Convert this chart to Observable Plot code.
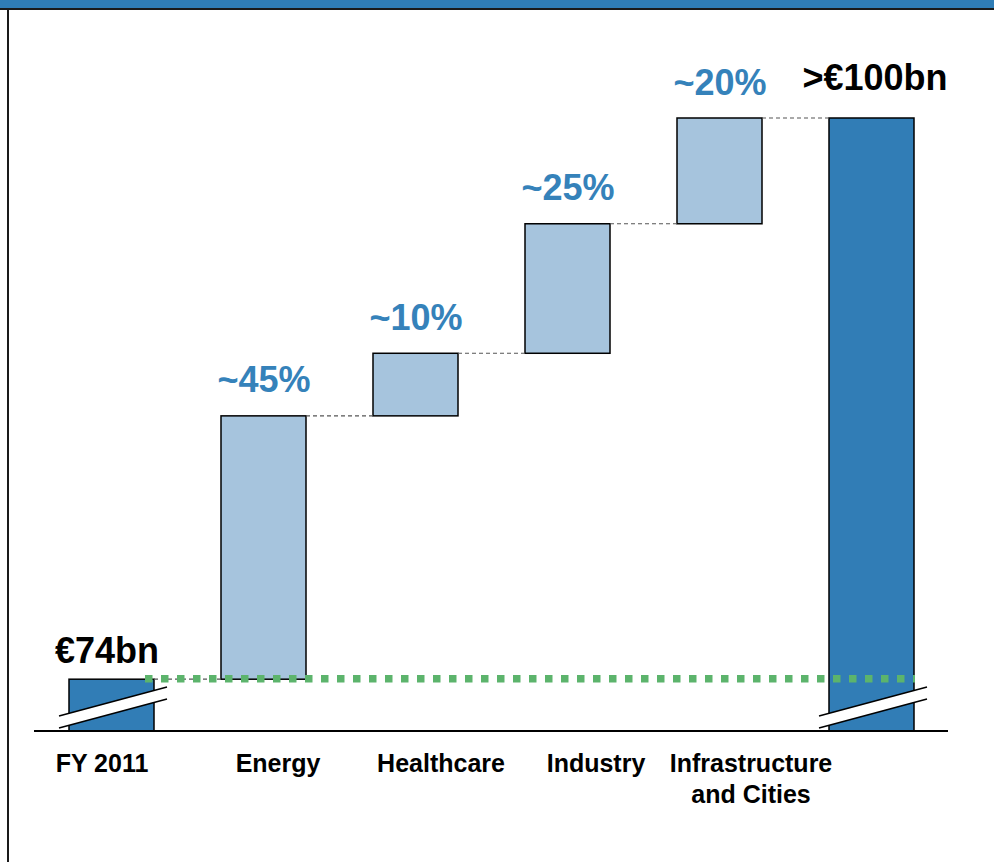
<!DOCTYPE html>
<html>
<head>
<meta charset="utf-8">
<script src="https://cdn.jsdelivr.net/npm/d3@7"></script>
<script src="https://cdn.jsdelivr.net/npm/@observablehq/plot@0.6"></script>
<style>
  html, body { margin: 0; padding: 0; background: #fff; }
  #wrap { position: relative; width: 994px; height: 862px; overflow: hidden; }
  #band { position: absolute; left: 0; top: 0; width: 994px; height: 8px; background: #2f7db6; border-bottom: 2px solid #1a1a1a; }
  #leftline { position: absolute; left: 7px; top: 10px; bottom: 0; width: 2px; background: #1a1a1a; }
  #chart { position: absolute; left: 0; top: 0; }
</style>
</head>
<body>
<div id="wrap">
  <div id="chart"></div>
  <div id="band"></div>
  <div id="leftline"></div>
</div>
<script>
// ---- data ----
const categories = ["FY 2011", "Energy", "Healthcare", "Industry", "Infrastructure and Cities", "Target"];
const axisLabels = ["FY 2011", "Energy", "Healthcare", "Industry", "Infrastructure\nand Cities", ""];
const startValue = 74;            // €bn, FY 2011
const increments = [12.2, 2.9, 6.0, 4.9]; // €bn contributions
const endValue = 100;             // €bn target
const shareLabels = ["~45%", "~10%", "~25%", "~20%"];
const totalLabels = ["€74bn", ">€100bn"];
const axisFloor = 71.6;           // broken-axis floor

// ---- derived rows ----
const totals = [
  {cat: categories[0], y1: axisFloor, y2: startValue, label: totalLabels[0]},
  {cat: categories[5], y1: axisFloor, y2: endValue, label: totalLabels[1]}
];
let cum = startValue;
const steps = increments.map((v, i) => {
  const r = {cat: categories[i + 1], y1: cum, y2: cum + v, label: shareLabels[i]};
  cum += v;
  return r;
});
const tops = [startValue, ...steps.map(d => d.y2)];
const labelRows = categories.map((c, i) => ({cat: c, text: axisLabels[i]}));
const labelShift = {"FY 2011": -10, "Energy": 14, "Healthcare": 25, "Industry": 28, "Infrastructure and Cities": 31, "Target": 0};

const darkBlue = "#317db6";
const lightBlue = "#a6c4dd";
const pctBlue = "#3582ba";
const font = "'Liberation Sans', Arial, Helvetica, sans-serif";

const chart = Plot.plot({
  width: 994,
  height: 862,
  marginLeft: 34,
  marginRight: 46,
  marginTop: 0,
  marginBottom: 0,
  style: {fontFamily: font, background: "transparent", overflow: "visible"},
  x: {type: "band", domain: categories, range: [1, 982.5], padding: 0.44, axis: null},
  y: {domain: [axisFloor, endValue], range: [731, 118], axis: null},
  marks: [
    Plot.barY(totals, {x: "cat", y1: "y1", y2: "y2", fill: darkBlue, stroke: "#000", strokeWidth: 1.5}),
    Plot.barY(steps, {x: "cat", y1: "y1", y2: "y2", fill: lightBlue, stroke: "#000", strokeWidth: 1.5}),
    Plot.text(steps, {x: "cat", y: "y2", text: "label", dy: -24, lineAnchor: "bottom", fill: pctBlue,
      fontSize: 36, fontWeight: "bold"}),
    Plot.text(totals.slice(0, 1), {x: "cat", y: "y2", text: "label", dy: -17, dx: -5, lineAnchor: "bottom", fill: "#000",
      fontSize: 36, fontWeight: "bold"}),
    Plot.text(totals.slice(1), {x: "cat", y: "y2", text: "label", dy: -29, dx: 3, lineAnchor: "bottom", fill: "#000",
      fontSize: 36, fontWeight: "bold"}),
    Plot.text(labelRows, {x: "cat", y: () => axisFloor, text: "text", lineAnchor: "top", dy: 18, lineHeight: 1.25,
      fontSize: 25, fontWeight: "bold", fill: "#000"})
  ]
});
// per-label horizontal shifts (positioning of the category labels)
d3.select(chart).selectAll("g[aria-label='text']").filter((d, i, n) => i === n.length - 1)
  .selectAll("text").each(function(d, i) {
    const dx = labelShift[categories[i]] || 0;
    const t = d3.select(this);
    const tr = t.attr("transform");
    t.attr("transform", (tr ? tr + " " : "") + `translate(${dx},0)`);
  });

document.getElementById("chart").appendChild(chart);

// ---- decorations via the plot's own scales ----
const sx = chart.scale("x");
const sy = chart.scale("y");
const bw = sx.bandwidth;
const svg = d3.select(chart);
const deco = svg.append("g");

// dashed connectors between consecutive bar tops
const seq = categories;
tops.forEach((v, i) => {
  const xa = sx.apply(seq[i]) + bw;
  const xb = sx.apply(seq[i + 1]);
  deco.append("line")
    .attr("x1", xa).attr("x2", xb)
    .attr("y1", sy.apply(v)).attr("y2", sy.apply(v))
    .attr("stroke", "#555").attr("stroke-width", 1.2).attr("stroke-dasharray", "4,3");
});

// axis break marks on the two total bars
const base = sy.apply(axisFloor);
[categories[0], categories[5]].forEach(c => {
  const left = sx.apply(c) - 10;
  const right = sx.apply(c) + bw + 13;
  deco.append("polygon")
    .attr("points", `${left},${base - 3} ${right},${base - 32} ${right},${base - 44} ${left},${base - 15}`)
    .attr("fill", "#fff");
  deco.append("line").attr("x1", left).attr("y1", base - 3).attr("x2", right).attr("y2", base - 32)
    .attr("stroke", "#000").attr("stroke-width", 1.5);
  deco.append("line").attr("x1", left).attr("y1", base - 15).attr("x2", right).attr("y2", base - 44)
    .attr("stroke", "#000").attr("stroke-width", 1.5);
});

// baseline
deco.append("line")
  .attr("x1", 34).attr("x2", 948).attr("y1", base).attr("y2", base)
  .attr("stroke", "#000").attr("stroke-width", 2);

// green dotted reference line at the FY 2011 level
deco.append("line")
  .attr("x1", sx.apply(categories[0]) + bw - 9)
  .attr("x2", sx.apply(categories[5]) + bw + 1)
  .attr("y1", sy.apply(startValue) - 0.5).attr("y2", sy.apply(startValue) - 0.5)
  .attr("stroke", "#5cb46c").attr("stroke-width", 7.5).attr("stroke-dasharray", "7.5,8.5");
</script>
</body>
</html>
